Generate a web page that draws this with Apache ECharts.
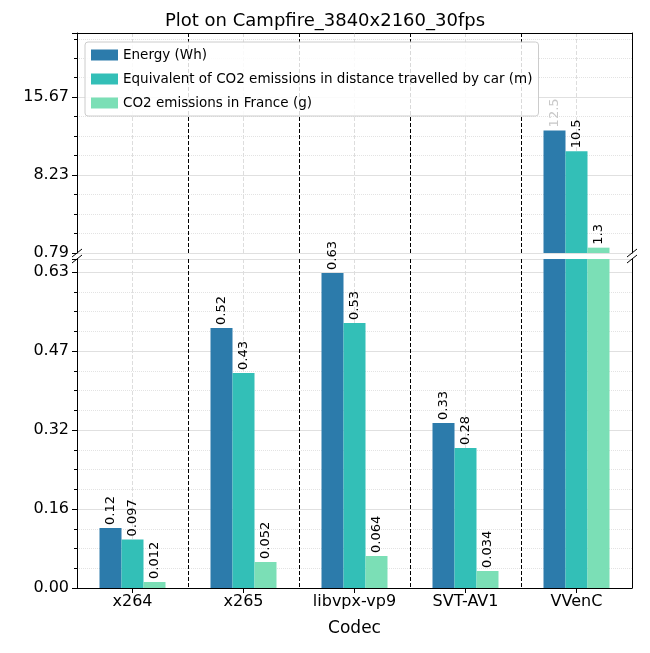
<!DOCTYPE html>
<html><head><meta charset="utf-8">
<script src="https://cdn.jsdelivr.net/npm/echarts@6/dist/echarts.min.js"></script>
<style>html,body{margin:0;padding:0;background:#fff}#c{width:650px;height:653px}</style>
</head><body><div id="c"></div>
<script>
const categories = ['x264','x265','libvpx-vp9','SVT-AV1','VVenC'];
const energy = [0.12, 0.52, 0.63, 0.33, 12.5];
const carDistance = [0.097, 0.43, 0.53, 0.28, 10.5];
const co2France = [0.012, 0.052, 0.064, 0.034, 1.3];
const seriesNames = ['Energy (Wh)','Equivalent of CO2 emissions in distance travelled by car (m)','CO2 emissions in France (g)'];
const colors = ['#2c7bab','#33bfb7','#7bdfb6'];
const FONT = 'DejaVu Sans';
const lowMax = 0.658, highMin = 0.79, highMax = 21.8;

const chart = echarts.init(document.getElementById('c'));
const L = 77, R = 18;
const grids = [
  {left: L, right: R, top: 33, height: 220},
  {left: L, right: R, top: 259, bottom: 65}
];
function catAxis(gi, show) {
  return {type:'category', gridIndex: gi, data: categories,
    axisLine:{show: true, lineStyle:{color:'#000', width:1}},
    position: gi===0 ? 'top' : 'bottom',
    axisTick:{show: show, alignWithLabel:true, lineStyle:{color:'#000'}},
    axisLabel:{show: show, color:'#000', fontSize:16, fontFamily:FONT, margin:6},
    splitLine:{show:false},
    name: show ? 'Codec' : '', nameLocation:'middle', nameGap:32,
    nameTextStyle:{color:'#000', fontSize:17, fontFamily:FONT}};
}
function gridAxis(gi) {
  return {type:'value', gridIndex: gi, min:0, max:5, interval:0.5, show:true,
    axisLine:{show:false}, axisTick:{show:false}, axisLabel:{show:false},
    splitLine:{show:true, lineStyle:{color:['#000','#dddddd'], type:'dashed', width:1}}};
}
function yAxis(gi, min, max, interval) {
  return {type:'value', gridIndex: gi, min, max, interval,
    axisLine:{show:true, lineStyle:{color:'#000'}},
    axisTick:{show:true, lineStyle:{color:'#000'}},
    minorTick:{show:true, splitNumber:4, lineStyle:{color:'#000'}},
    minorSplitLine:{show:true, lineStyle:{color:'#e3e3e3', type:'dotted'}},
    splitLine:{show:true, lineStyle:{color:'#e0e0e0'}},
    axisLabel:{color:'#000', fontSize:16, fontFamily:FONT, formatter: v => v.toFixed(2),
      showMaxLabel: false}};
}
const rightAxes = [
  {type:'value', gridIndex:0, position:'right', min:highMin, max:highMax, axisLine:{show:true,lineStyle:{color:'#000'}}, axisTick:{show:false}, axisLabel:{show:false}, splitLine:{show:false}},
  {type:'value', gridIndex:1, position:'right', min:0, max:lowMax, axisLine:{show:true,lineStyle:{color:'#000'}}, axisTick:{show:false}, axisLabel:{show:false}, splitLine:{show:false}}
];
const datasets = [energy, carDistance, co2France];
const series = [];
[0,1].forEach(gi => {
  datasets.forEach((d, si) => {
    series.push({
      name: seriesNames[si], type:'bar', xAxisIndex: gi, yAxisIndex: gi,
      data: d, clip: true, barWidth: 22, barGap: '0%',
      itemStyle:{color: colors[si]},
      label:{show:true, position:'top', rotate:90, align:'left', verticalAlign:'middle', distance:3,
        color: (gi===0 && si===0) ? '#c8c8c8' : '#000',
        fontSize:13, fontFamily:FONT,
        formatter: p => {
          const v = p.value;
          if (gi===0 && v < highMin) return '';
          if (gi===1 && v > lowMax) return '';
          return String(v);
        }}
    });
  });
});
const brk = [];
[L, 650 - R].forEach(x => {
  [253, 259].forEach(y => {
    brk.push({type:'line', shape:{x1:x-5, y1:y+4, x2:x+5, y2:y-4}, style:{stroke:'#000', lineWidth:1}, z:100});
  });
});
chart.setOption({
  animation:false,
  title:{text:'Plot on Campfire_3840x2160_30fps', left:'center', top:7,
    textStyle:{color:'#000', fontSize:18, fontWeight:'normal', fontFamily:FONT}},
  grid: grids,
  legend:{data: seriesNames, left:85, top:42, orient:'vertical', itemWidth:27, itemHeight:11, itemGap:10,
    padding:[6,6,6,6],
    backgroundColor:'rgba(255,255,255,0.85)', borderColor:'#ccc', borderWidth:1, borderRadius:3,
    textStyle:{color:'#000', fontSize:13.5, fontFamily:FONT}, icon:'rect', selectedMode:false},
  xAxis: [catAxis(0,false), catAxis(1,true), gridAxis(0), gridAxis(1)],
  yAxis: [yAxis(0, highMin, highMax, 7.44), yAxis(1, 0, lowMax, 0.158)].concat(rightAxes),
  series,
  graphic: brk
});
</script></body></html>
